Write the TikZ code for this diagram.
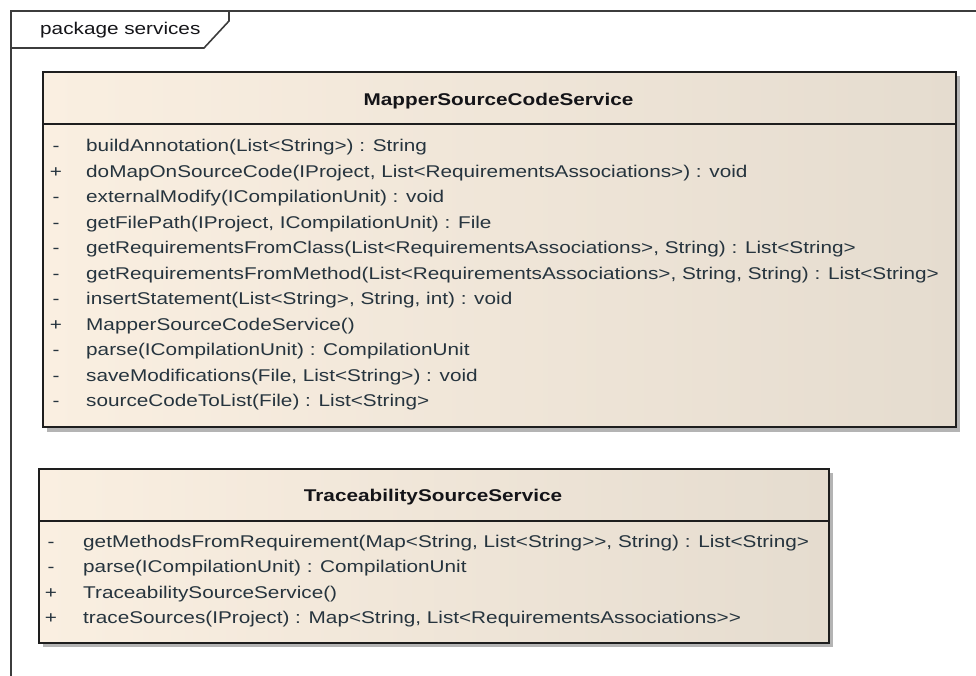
\documentclass[tikz,border=0pt]{standalone}
\usepackage{fontspec}
\setmainfont{Liberation Sans}[FakeStretch=1.22, Ligatures=TeXOff]
\definecolor{frameline}{HTML}{3C3C3C}
\definecolor{boxline}{HTML}{1E1E1E}
\definecolor{fillleft}{HTML}{FAEFE1}
\definecolor{fillright}{HTML}{E5DCCF}
\definecolor{membertext}{HTML}{26343E}
\definecolor{titletext}{HTML}{141418}
\definecolor{shadowgray}{HTML}{B4B4B4}
\begin{document}
\begin{tikzpicture}[x=1pt,y=-1pt,
  classbox/.style={draw=boxline, line width=1.6pt, left color=fillleft,
    right color=fillright, anchor=north west, inner sep=0pt},
  shadowbox/.style={fill=shadowgray},
  separator/.style={draw=boxline, line width=1.3pt},
  frame/.style={draw=frameline, line width=1.6pt},
  titlefont/.style={font=\fontsize{17}{20}\selectfont\bfseries, text=titletext, inner sep=0pt},
  memberfont/.style={font=\fontsize{17}{20}\selectfont, text=membertext, inner sep=0pt, anchor=mid west},
  vismark/.style={font=\fontsize{17}{20}\selectfont, text=membertext, inner sep=0pt, anchor=mid},
]
\useasboundingbox (0,0) rectangle (976,676);

% package frame with its name tab
\draw[frame] (11,690) -- (11,11) -- (990,11);
\draw[frame] (11,48) -- (204,48) -- (229,21) -- (229,11);
\node[memberfont, text=titletext] (pkgname) at (40,32) {package services};

% class MapperSourceCodeService
\fill[shadowbox] (47,76) rectangle (960,432);
\node[classbox, minimum width=913pt, minimum height=355pt] (mapper) at (42,71) {};
\draw[separator] (42,124) -- (955,124);
\node[titlefont] (mapperTitle) at (498.5,101) {MapperSourceCodeService};
\foreach \vis/\sig [count=\k from 0] in {
  -/{buildAnnotation(List<String>) : String},
  +/{doMapOnSourceCode(IProject, List<RequirementsAssociations>) : void},
  -/{externalModify(ICompilationUnit) : void},
  -/{getFilePath(IProject, ICompilationUnit) : File},
  -/{getRequirementsFromClass(List<RequirementsAssociations>, String) : List<String>},
  -/{getRequirementsFromMethod(List<RequirementsAssociations>, String, String) : List<String>},
  -/{insertStatement(List<String>, String, int) : void},
  +/{MapperSourceCodeService()},
  -/{parse(ICompilationUnit) : CompilationUnit},
  -/{saveModifications(File, List<String>) : void},
  -/{sourceCodeToList(File) : List<String>}}
{
  \node[vismark] (mapperVis\k) at (56,{149+25.5*\k}) {\vis};
  \node[memberfont] (mapperOp\k) at (86,{149+25.5*\k}) {\sig};
}

% class TraceabilitySourceService
\fill[shadowbox] (43,473) rectangle (833,647);
\node[classbox, minimum width=790pt, minimum height=174pt] (trace) at (38,468) {};
\draw[separator] (38,521) -- (828,521);
\node[titlefont] (traceTitle) at (433,497.5) {TraceabilitySourceService};
\foreach \vis/\sig [count=\k from 0] in {
  -/{getMethodsFromRequirement(Map<String, List<String>>, String) : List<String>},
  -/{parse(ICompilationUnit) : CompilationUnit},
  +/{TraceabilitySourceService()},
  +/{traceSources(IProject) : Map<String, List<RequirementsAssociations>>}}
{
  \node[vismark] (traceVis\k) at (51,{545+25.3*\k}) {\vis};
  \node[memberfont] (traceOp\k) at (83,{545+25.3*\k}) {\sig};
}
\end{tikzpicture}
\end{document}
